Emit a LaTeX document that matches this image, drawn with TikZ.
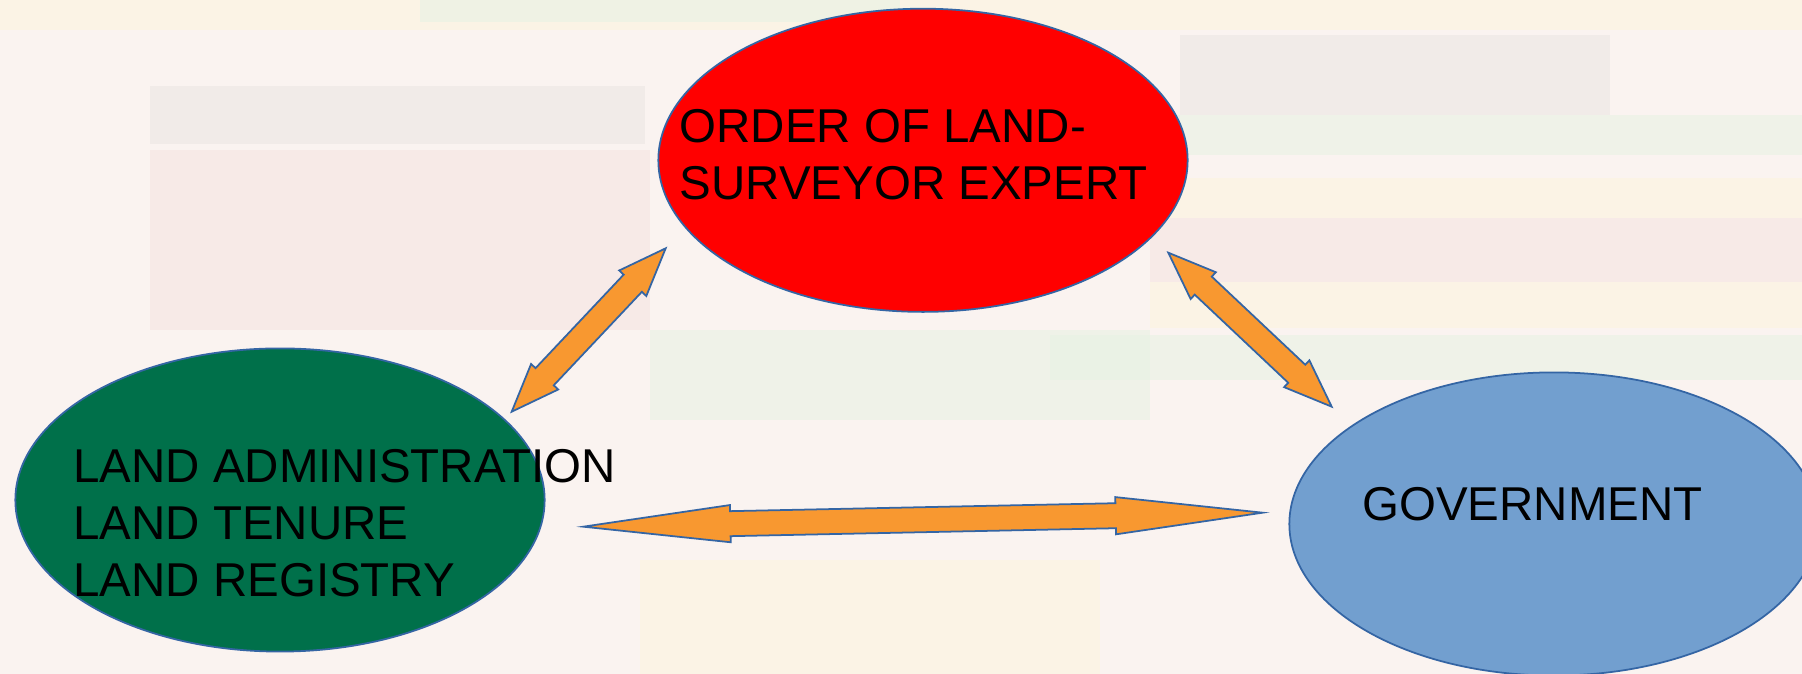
\documentclass[tikz,border=0pt]{standalone}
\usepackage{fontspec}
\setmainfont{Liberation Sans}
\usetikzlibrary{calc,shapes.geometric}
\definecolor{bgc}{RGB}{250,243,240}
\definecolor{bandgray}{RGB}{236,230,228}
\definecolor{bandgreen}{RGB}{232,242,228}
\definecolor{bandyellow}{RGB}{252,244,222}
\definecolor{bandpink}{RGB}{246,228,226}
\definecolor{arrowfill}{RGB}{248,152,48}
\definecolor{edgeblue}{RGB}{52,101,164}
\definecolor{redfill}{RGB}{255,0,0}
\definecolor{greenfill}{RGB}{0,112,74}
\definecolor{bluefill}{RGB}{114,159,207}
\tikzset{
  ell/.style={ellipse, draw=edgeblue, line width=0.5pt, inner sep=0pt,
              minimum width=5.29cm, minimum height=3.03cm},
  txt/.style={inner sep=0pt, anchor=base west, text=black,
              font=\fontsize{13.5pt}{16.2pt}\selectfont},
  arrowshape/.style={fill=arrowfill, draw=edgeblue, line width=0.5pt, line join=miter},
  band/.style={draw=none, fill opacity=0.6}
}
% #1 start, #2 end, #3 head length, #4 head half width, #5 shaft half width
\newcommand{\mydblarrow}[5]{%
  \coordinate (#1h) at ($(#1)!#3!(#2)$);
  \coordinate (#2h) at ($(#2)!#3!(#1)$);
  \path[arrowshape] (#1)
    -- ($(#1h)!#4!90:(#2)$) -- ($(#1h)!#5!90:(#2)$)
    -- ($(#2h)!#5!-90:(#1)$) -- ($(#2h)!#4!-90:(#1)$)
    -- (#2)
    -- ($(#2h)!#4!90:(#1)$) -- ($(#2h)!#5!90:(#1)$)
    -- ($(#1h)!#5!-90:(#2)$) -- ($(#1h)!#4!-90:(#2)$)
    -- cycle;
}
\begin{document}
\begin{tikzpicture}[x=0.01cm,y=-0.01cm]
  % background
  \fill[bgc] (0,0) rectangle (1802,674);
  \useasboundingbox (0,0) rectangle (1802,674);
  \fill[band, bandyellow] (0,0) rectangle (1802,30);
  \fill[band, bandgreen] (420,0) rectangle (900,22);
  \fill[band, bandgray] (150,86) rectangle (645,144);
  \fill[band, bandgray] (1180,35) rectangle (1610,115);
  \fill[band, bandgreen] (1150,115) rectangle (1802,155);
  \fill[band, bandyellow] (1150,178) rectangle (1802,218);
  \fill[band, bandpink] (1150,218) rectangle (1802,282);
  \fill[band, bandyellow] (1150,282) rectangle (1802,328);
  \fill[band, bandgreen] (1050,335) rectangle (1802,380);
  \fill[band, bandpink] (150,150) rectangle (650,330);
  \fill[band, bandgreen] (650,330) rectangle (1150,420);
  \fill[band, bandyellow] (640,560) rectangle (1100,674);

  % ellipses
  \node[ell, fill=redfill] (order) at (923,160.3) {};
  \node[ell, fill=greenfill] (land) at (280,500) {};
  \node[ell, fill=bluefill] (gov) at (1554,524) {};

  % texts
  \node[txt] (t1) at (679,142.7) {ORDER OF LAND-};
  \node[txt] (t2) at (679,199.3) {SURVEYOR EXPERT};
  \node[txt] (t3) at (72.7,482.7) {LAND ADMINISTRATION};
  \node[txt] (t4) at (72.7,540) {LAND TENURE};
  \node[txt] (t5) at (72.7,596.7) {LAND REGISTRY};
  \node[txt] (t6) at (1361.7,521) {GOVERNMENT};

  % arrows
  \coordinate (a1) at (511.7,411.7);
  \coordinate (b1) at (665.7,248.3);
  \coordinate (a2) at (1168.3,252.7);
  \coordinate (b2) at (1331.7,406.7);
  \coordinate (a3) at (583.3,526.7);
  \coordinate (b3) at (1262.7,512.7);
  \mydblarrow{a1}{b1}{0.48cm}{0.186cm}{0.125cm}
  \mydblarrow{a2}{b2}{0.48cm}{0.184cm}{0.124cm}
  \mydblarrow{a3}{b3}{1.47cm}{0.186cm}{0.125cm}
\end{tikzpicture}
\end{document}
